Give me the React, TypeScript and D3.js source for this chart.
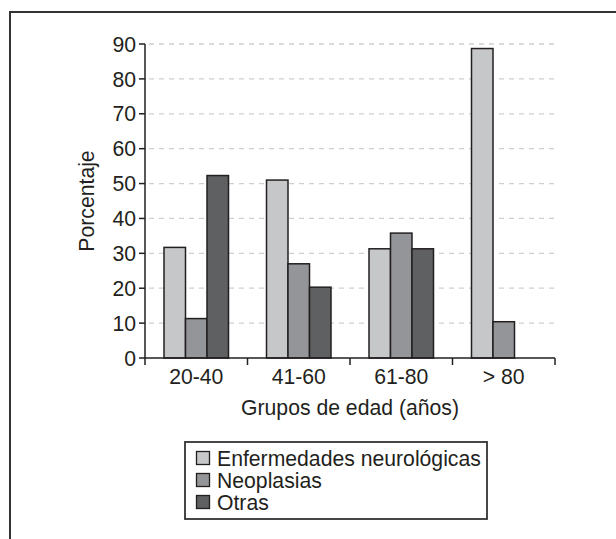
import React from "react";
import * as d3 from "d3";

const categories = ["20-40", "41-60", "61-80", "> 80"];
const seriesNames = ["Enfermedades neurológicas", "Neoplasias", "Otras"];
const neuro = [31.7, 51.0, 31.3, 88.7];
const neoplasias = [11.3, 27.0, 35.8, 10.4];
const otras = [52.3, 20.3, 31.3, 0];
const yTicks = [0, 10, 20, 30, 40, 50, 60, 70, 80, 90];
const colors = ["#c6c7c9", "#939598", "#5f6062"];

const seriesValues = [neuro, neoplasias, otras];

export default function App() {
  const W = 616, H = 539;
  const x0 = 145, x1 = 555, yTop = 44, yBot = 358;
  const font = "'Liberation Sans', Arial, Helvetica, sans-serif";
  const fs = 21.2;
  const x = d3.scaleBand<string>().domain(categories).range([x0, x1]).paddingInner(0).paddingOuter(0);
  const y = d3.scaleLinear().domain([0, 90]).range([yBot, yTop]);
  const barW = 21.5;
  const groupW = barW * 3;
  const textColor = "#231f20";

  return (
    <svg width={W} height={H} style={{ position: "absolute", left: 0, top: 0, background: "#fff" }}>
      <rect x={10} y={12} width={W} height={H} fill="#fff" stroke="#333" strokeWidth={2} />
      {/* grid */}
      {yTicks.filter((t) => t > 0).map((t) => (
        <line key={"g" + t} x1={x0 + 4} x2={x1} y1={y(t)} y2={y(t)} stroke="#cfcfcf" strokeWidth={1.3} strokeDasharray="5,5" />
      ))}
      {/* bars */}
      {categories.map((c, i) => {
        const cx = (x(c) as number) + x.bandwidth() / 2;
        return seriesValues.map((vals, s) =>
          vals[i] > 0 ? (
            <rect
              key={c + s}
              x={cx - groupW / 2 + s * barW}
              y={y(vals[i])}
              width={barW}
              height={yBot - y(vals[i])}
              fill={colors[s]}
              stroke={textColor}
              strokeWidth={1.5}
            />
          ) : null
        );
      })}
      {/* y axis */}
      <line x1={x0} x2={x0} y1={yTop} y2={yBot} stroke={textColor} strokeWidth={1.5} />
      {yTicks.map((t) => (
        <g key={"t" + t}>
          <line x1={x0 - 6} x2={x0} y1={y(t)} y2={y(t)} stroke={textColor} strokeWidth={1.5} />
          <text x={x0 - 9} y={y(t)} dy="0.36em" textAnchor="end" fontFamily={font} fontSize={fs} fill={textColor}>
            {t}
          </text>
        </g>
      ))}
      {/* x axis */}
      <line x1={x0} x2={x1} y1={yBot} y2={yBot} stroke={textColor} strokeWidth={1.5} />
      {[...categories.map((c) => x(c) as number), x1].map((v, i) => (
        <line key={"xt" + i} x1={v} x2={v} y1={yBot} y2={yBot + 7} stroke={textColor} strokeWidth={1.5} />
      ))}
      {categories.map((c) => (
        <text key={"xl" + c} x={(x(c) as number) + x.bandwidth() / 2} y={384} textAnchor="middle" fontFamily={font} fontSize={fs} fill={textColor}>
          {c}
        </text>
      ))}
      <text x={(x0 + x1) / 2} y={415} textAnchor="middle" fontFamily={font} fontSize={fs} fill={textColor}>
        Grupos de edad (años)
      </text>
      <text transform={`translate(94, ${(yTop + yBot) / 2}) rotate(-90)`} textAnchor="middle" fontFamily={font} fontSize={fs} fill={textColor}>
        Porcentaje
      </text>
      {/* legend */}
      <rect x={185} y={442} width={302} height={77} fill="#fff" stroke="#333" strokeWidth={1.8} />
      {seriesNames.map((n, i) => (
        <g key={"lg" + i}>
          <rect x={196.5} y={451.5 + i * 22} width={13} height={13} fill={colors[i]} stroke={textColor} strokeWidth={1.3} />
          <text x={217} y={458 + i * 22} dy="0.36em" fontFamily={font} fontSize={fs} fill={textColor}>
            {n}
          </text>
        </g>
      ))}
    </svg>
  );
}
